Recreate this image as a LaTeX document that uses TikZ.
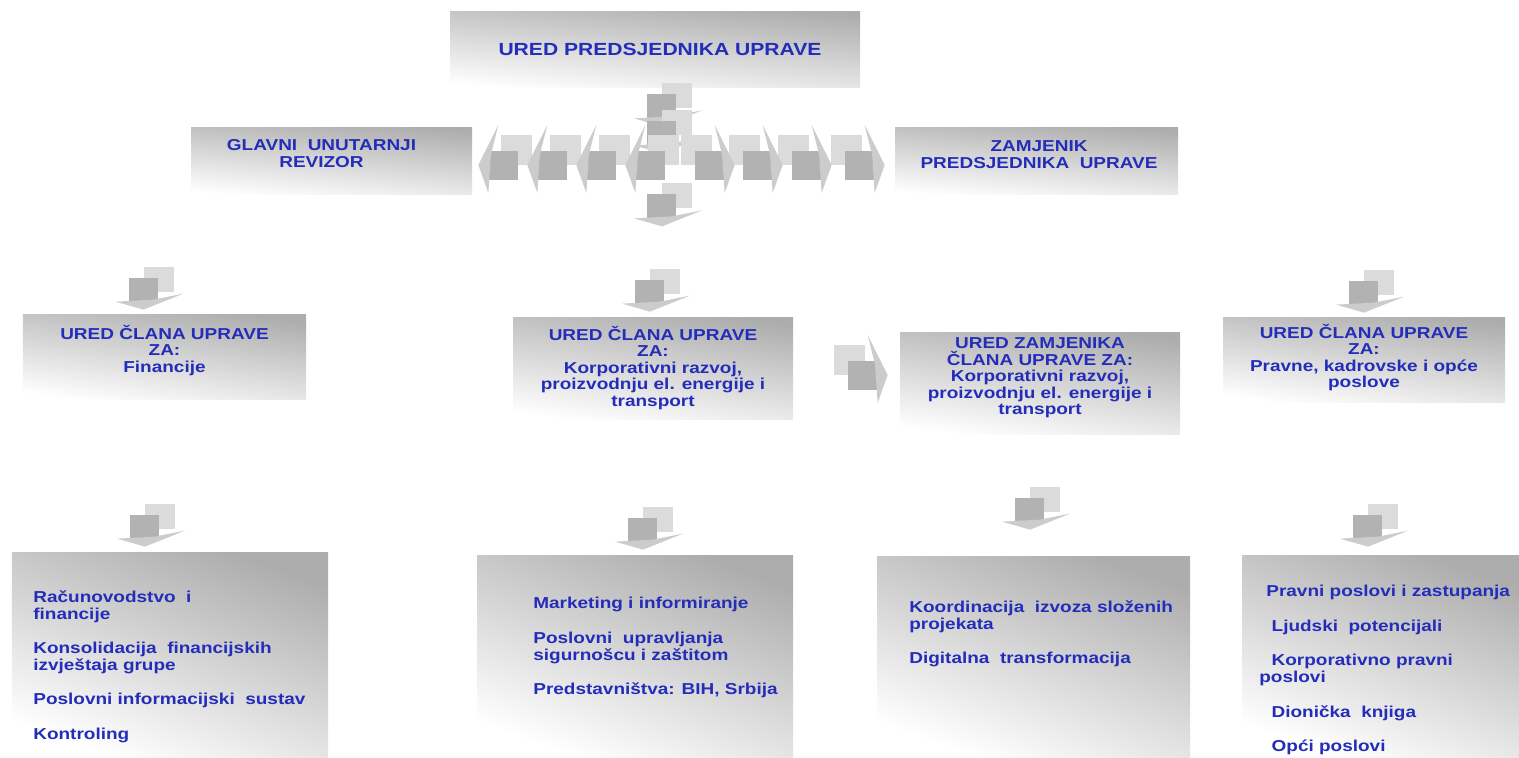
\documentclass[tikz,border=0pt]{standalone}
\usepackage{fontspec}
\setmainfont{Liberation Sans}[FakeStretch=1.2]
\usepackage{tikz}
\usetikzlibrary{calc}
\definecolor{txtblue}{RGB}{35,45,185}
\tikzset{
  box/.style n args={2}{rectangle, inner sep=0pt, minimum width=#1cm, minimum height=#2cm,
    top color=black!32, bottom color=white, shading angle=-5},
  hdtxt/.style={inner sep=0pt, align=center, text=txtblue, font=\fontsize{9}{9.4}\selectfont\bfseries},
  listtxt/.style={inner sep=0pt, align=left, anchor=north west, text=txtblue, font=\fontsize{9}{9.6}\selectfont\bfseries},
  blkarr/.pic={
    \fill[black!14] (0,0.36) rectangle (0.6,0.86);
    \fill[black!30] (-0.3,0.14) rectangle (0.28,0.64);
    \fill[black!20] (-0.56,0.16) -- (0,0) -- (0.8,0.32) -- (0.2,0.2) -- cycle;
  }
}
\begin{document}
\begin{tikzpicture}
  \useasboundingbox (0,0) rectangle (30.38,-15.16);
  % boxes
  \node[box={8.2}{1.52}] (pred) at (13.1,-1.0) {};
  \node[box={5.62}{1.34}] (rev) at (6.63,-3.23) {};
  \node[box={5.66}{1.34}] (zam) at (20.73,-3.23) {};
  \node[box={5.66}{1.7}, shading angle=-8] (fin) at (3.29,-7.15) {};
  \node[box={5.6}{2.04}, shading angle=-8] (kor) at (13.06,-7.38) {};
  \node[box={5.6}{2.04}, shading angle=-8] (zkor) at (20.8,-7.68) {};
  \node[box={5.64}{1.7}, shading angle=-8] (prav) at (27.28,-7.21) {};
  \node[box={6.32}{4.1}, shading angle=-20] (lfin) at (3.4,-13.09) {};
  \node[box={6.32}{4.04}, shading angle=-20] (lkor) at (12.7,-13.12) {};
  \node[box={6.26}{4.02}, shading angle=-20] (lzkor) at (20.67,-13.13) {};
  \node[box={5.54}{4.04}, shading angle=-20] (lprav) at (27.61,-13.12) {};

  % texts
  \node[hdtxt, font=\fontsize{10}{11}\selectfont\bfseries] (predT) at ($(pred)+(0.1,0.02)$) {URED PREDSJEDNIKA UPRAVE};
  \node[hdtxt] (revT) at ($(rev)+(-0.2,0.16)$) {GLAVNI\ \ UNUTARNJI\\REVIZOR};
  \node[hdtxt] (zamT) at ($(zam)+(0.05,0.14)$) {ZAMJENIK\\PREDSJEDNIKA\ \ UPRAVE};
  \node[hdtxt] (finT) at ($(fin)+(0,0.14)$) {URED ČLANA UPRAVE\\ZA:\\Financije};
  \node[hdtxt] (korT) at ($(kor)+(0,0.02)$) {URED ČLANA UPRAVE\\ZA:\\Korporativni razvoj,\\proizvodnju el. energije i\\transport};
  \node[hdtxt] (zkorT) at ($(zkor)+(0,0.12)$) {URED ZAMJENIKA\\ČLANA UPRAVE ZA:\\Korporativni razvoj,\\proizvodnju el. energije i\\transport};
  \node[hdtxt] (pravT) at ($(prav)+(0,0.06)$) {URED ČLANA UPRAVE\\ZA:\\Pravne, kadrovske i opće\\poslove};

  \node[listtxt] (lfinT) at (0.66,-11.8) {Računovodstvo\ \ i\\financije\\[10pt]Konsolidacija\ \ financijskih\\izvještaja grupe\\[10pt]Poslovni informacijski\ \ sustav\\[10pt]Kontroling};
  \node[listtxt] (lkorT) at (10.66,-11.94) {Marketing i informiranje\\[10pt]Poslovni\ \ upravljanja\\sigurnošcu i zaštitom\\[10pt]Predstavništva: BIH, Srbija};
  \node[listtxt] (lzkorT) at (18.18,-12.0) {Koordinacija\ \ izvoza složenih\\projekata\\[10pt]Digitalna\ \ transformacija};
  \node[listtxt] (lpravT) at (25.18,-11.7) {\hspace*{4pt}Pravni poslovi i zastupanja\\[10pt]\hspace*{7pt}Ljudski\ \ potencijali\\[10pt]\hspace*{7pt}Korporativno pravni\\poslovi\\[10pt]\hspace*{7pt}Dionička\ \ knjiga\\[10pt]\hspace*{7pt}Opći poslovi};

  % arrows
  \foreach \d in {0.76,1.3,2.76}
    \pic at ($(pred.south)+(0.14,-\d)$) {blkarr};
  \foreach \d in {0.2,1.26,2.24,3.2}
    \pic[rotate=90, yscale=1.25] at ($(zam.west)+(-\d,-0.07)$) {blkarr};
  \foreach \d in {0.12,1.1,2.08,3.06}
    \pic[xscale=-1, rotate=90, yscale=1.25] at ($(rev.east)+(\d,-0.07)$) {blkarr};
  \pic[rotate=90, yscale=1.25] at ($(zkor.west)+(-0.24,0.18)$) {blkarr};
  \pic at ($(fin.north)+(-0.42,0.1)$) {blkarr};
  \pic at ($(kor.north)+(-0.06,0.12)$) {blkarr};
  \pic at ($(prav.north)+(0,0.1)$) {blkarr};
  \pic at ($(lfin.north)+(-0.5,0.1)$) {blkarr};
  \pic at ($(lkor.north)+(0.16,0.1)$) {blkarr};
  \pic at ($(lzkor.north)+(-0.07,0.52)$) {blkarr};
  \pic at ($(lprav.north)+(-0.25,0.16)$) {blkarr};
\end{tikzpicture}
\end{document}
